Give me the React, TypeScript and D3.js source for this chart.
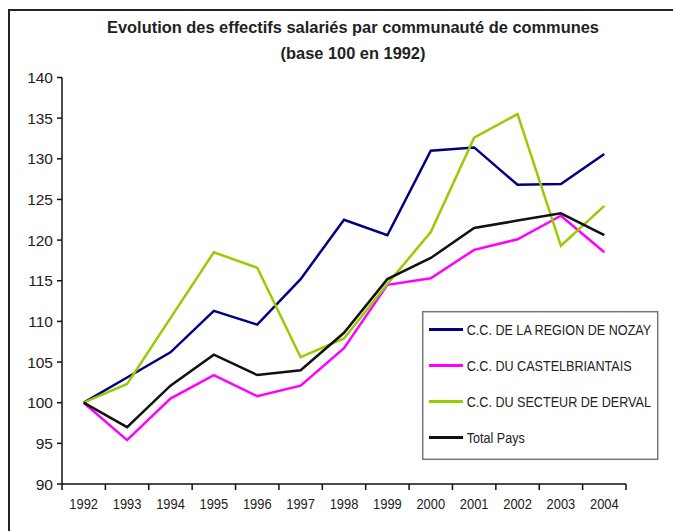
import React from "react";
import * as d3 from "d3";

// values (base 100 in 1992)
const years = ["1992", "1993", "1994", "1995", "1996", "1997", "1998", "1999", "2000", "2001", "2002", "2003", "2004"];
const nozay = [100, 103.1, 106.2, 111.3, 109.6, 115.2, 122.5, 120.6, 131.0, 131.4, 126.8, 126.9, 130.6];
const castel = [100, 95.4, 100.5, 103.4, 100.8, 102.1, 106.7, 114.5, 115.3, 118.8, 120.1, 123.0, 118.5];
const derval = [100, 102.3, 110.4, 118.5, 116.6, 105.6, 107.9, 114.6, 121.0, 132.6, 135.5, 119.3, 124.2];
const total = [100, 97.0, 102.1, 105.9, 103.4, 104.0, 108.6, 115.2, 117.8, 121.5, 122.4, 123.3, 120.6];
const yTicks = [90, 95, 100, 105, 110, 115, 120, 125, 130, 135, 140];
const seriesNames = ["C.C. DE LA REGION DE NOZAY", "C.C. DU CASTELBRIANTAIS", "C.C. DU SECTEUR DE DERVAL", "Total Pays"];
const seriesColors = ["#000080", "#ff00ff", "#99cc00", "#111111"];
const titleLines = ["Evolution des effectifs salariés par communauté de communes", "(base 100 en 1992)"];

const width = 673;
const height = 531;
const font = "'Liberation Sans', Arial, sans-serif";

export default function App() {
  const series = [nozay, castel, derval, total];

  const x = d3.scaleBand<string>().domain(years).range([62, 626]).padding(0);
  const y = d3.scaleLinear().domain([90, 140]).range([484, 77.5]);

  const line = d3
    .line<number>()
    .x((_, i) => (x(years[i]) as number) + x.bandwidth() / 2)
    .y((d) => y(d));

  // tick marks sit between categories, like the category axis in Excel
  const xTickPos = years.map((yr) => x(yr) as number).concat([x.range()[1]]);

  const legendX = 422.7;
  const legendY = 311.7;

  return (
    <svg
      width={width}
      height={height}
      style={{ position: "absolute", left: 0, top: 0, background: "#fff" }}
      fontFamily={font}
    >
      {/* outer frame, cut by the picture edge on the right and bottom */}
      <rect x={9} y={10} width={720} height={600} fill="none" stroke="#222" strokeWidth={2} />

      {titleLines.map((t, i) => (
        <text
          key={t}
          x={353}
          y={33 + i * 26}
          textAnchor="middle"
          fontSize={16.4}
          fontWeight="bold"
          fill="#222"
        >
          {t}
        </text>
      ))}

      {/* y axis */}
      <line x1={62} x2={62} y1={y(140)} y2={y(90)} stroke="#111" strokeWidth={1.5} />
      {yTicks.map((t) => (
        <g key={t} transform={`translate(0,${y(t)})`}>
          <line x1={57} x2={62} stroke="#111" strokeWidth={1.5} />
          <text x={53} dy="0.36em" textAnchor="end" fontSize={15.5} fill="#222">
            {t}
          </text>
        </g>
      ))}

      {/* x axis */}
      <line x1={62} x2={626} y1={y(90)} y2={y(90)} stroke="#111" strokeWidth={1.5} />
      {xTickPos.map((p, i) => (
        <line key={i} x1={p} x2={p} y1={y(90)} y2={y(90) + 6} stroke="#111" strokeWidth={1.5} />
      ))}
      {years.map((yr) => (
        <text
          key={yr}
          transform={`translate(${(x(yr) as number) + x.bandwidth() / 2},509) scale(0.86,1)`}
          textAnchor="middle"
          fontSize={15}
          fill="#222"
        >
          {yr}
        </text>
      ))}

      {/* series */}
      {series.map((s, i) => (
        <path
          key={seriesNames[i]}
          d={line(s) ?? undefined}
          fill="none"
          stroke={seriesColors[i]}
          strokeWidth={2.5}
          strokeLinejoin="miter"
        />
      ))}

      {/* legend */}
      <rect
        x={legendX}
        y={legendY}
        width={235}
        height={147.6}
        fill="#fff"
        stroke="#777"
        strokeWidth={1.5}
      />
      {seriesNames.map((name, i) => {
        const cy = legendY + 17.8 + i * 36;
        return (
          <g key={name}>
            <line x1={429} x2={463} y1={cy} y2={cy} stroke={seriesColors[i]} strokeWidth={3} />
            <text
              transform={`translate(466.7,${cy + 5}) scale(0.84,1)`}
              fontSize={15}
              fill="#222"
            >
              {name}
            </text>
          </g>
        );
      })}
    </svg>
  );
}
